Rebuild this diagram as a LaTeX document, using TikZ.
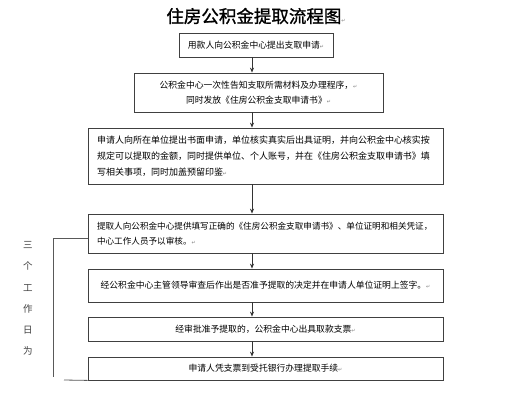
\documentclass[tikz,border=0pt]{standalone}
\usepackage{fontspec}
\setmainfont{Noto Sans CJK SC}
\newfontfamily\titlefont[FakeBold=1.2]{Noto Sans CJK SC}
\newfontfamily\symfont{DejaVu Sans}
\newcommand{\pmark}{{\symfont\fontsize{5}{5}\selectfont\textcolor{gray}{↵}}}
\usetikzlibrary{arrows.meta}

\begin{document}
\begin{tikzpicture}[x=1pt, y=-1pt,
    stepbox/.style={draw=black!75, line width=0.8pt, inner sep=0pt, align=center, font=\fontsize{8.8}{15}\selectfont},
    widebox/.style={stepbox, text width=337pt, align=left, inner xsep=9pt, minimum width=355pt},
    flowarrow/.style={draw=black!80, line width=0.8pt, -{Stealth[length=5pt, width=4pt]}},
    bracketline/.style={draw=black!65, line width=0.8pt},
]
    \fill[white] (0,0) rectangle (512,400);
    \useasboundingbox (0,0) rectangle (512,400);

    \node[font=\titlefont\fontsize{17.5}{20}\selectfont] (title) at (256,16) {住房公积金提取流程图\pmark};

    \node[stepbox, minimum width=154pt, minimum height=24pt] (b1) at (256,45) {用款人向公积金中心提出支取申请\pmark};
    \node[stepbox, minimum width=249pt, minimum height=39pt] (b2) at (258.5,92.5)
        {公积金中心一次性告知支取所需材料及办理程序，\pmark\\同时发放《住房公积金支取申请书》\pmark};
    \node[widebox, minimum height=56pt, font=\fontsize{9}{16}\selectfont] (b3) at (265.5,156)
        {申请人向所在单位提出书面申请，单位核实真实后出具证明，并向公积金中心核实按\\
         规定可以提取的金额，同时提供单位、个人账号，并在《住房公积金支取申请书》填\\
         写相关事项，同时加盖预留印鉴\pmark};
    \node[widebox, minimum height=39pt, font=\fontsize{8.6}{14.5}\selectfont] (b4) at (265.5,233.5)
        {提取人向公积金中心提供填写正确的《住房公积金支取申请书》、单位证明和相关凭证，\\
         中心工作人员予以审核。\pmark};
    \node[stepbox, minimum width=355pt, minimum height=33pt] (b5) at (265.5,285.5)
        {经公积金中心主管领导审查后作出是否准予提取的决定并在申请人单位证明上签字。\pmark};
    \node[stepbox, minimum width=355pt, minimum height=24pt] (b6) at (265.5,329)
        {经审批准予提取的，公积金中心出具取款支票\pmark};
    \node[stepbox, minimum width=355pt, minimum height=23pt] (b7) at (265.5,368.5)
        {申请人凭支票到受托银行办理提取手续\pmark};

    % arrows down the middle
    \coordinate (ax) at (252,0);
    \draw[flowarrow] (b1.south -| ax) -- (b2.north -| ax);
    \draw[flowarrow] (b2.south -| ax) -- (b3.north -| ax);
    \draw[flowarrow] (b3.south -| ax) -- (b4.north -| ax);
    \draw[flowarrow] (b4.south -| ax) -- (b5.north -| ax);
    \draw[flowarrow] (b5.south -| ax) -- (b6.north -| ax);
    \draw[flowarrow] (b6.south -| ax) -- (b7.north -| ax);

    % side bracket
    \coordinate (bk1) at (53,238);
    \coordinate (bk2) at (53,377);
    \coordinate (tail) at (64,380);
    \draw[bracketline] (b4.west |- bk1) -- (bk1) -- (bk2);
    \draw[bracketline] (tail) -- (b7.south west);

    \node[align=center, text=black!75, font=\fontsize{9.5}{21.3}\selectfont] (side) at (28,298.5)
        {三\\个\\工\\作\\日\\为};
\end{tikzpicture}
\end{document}
